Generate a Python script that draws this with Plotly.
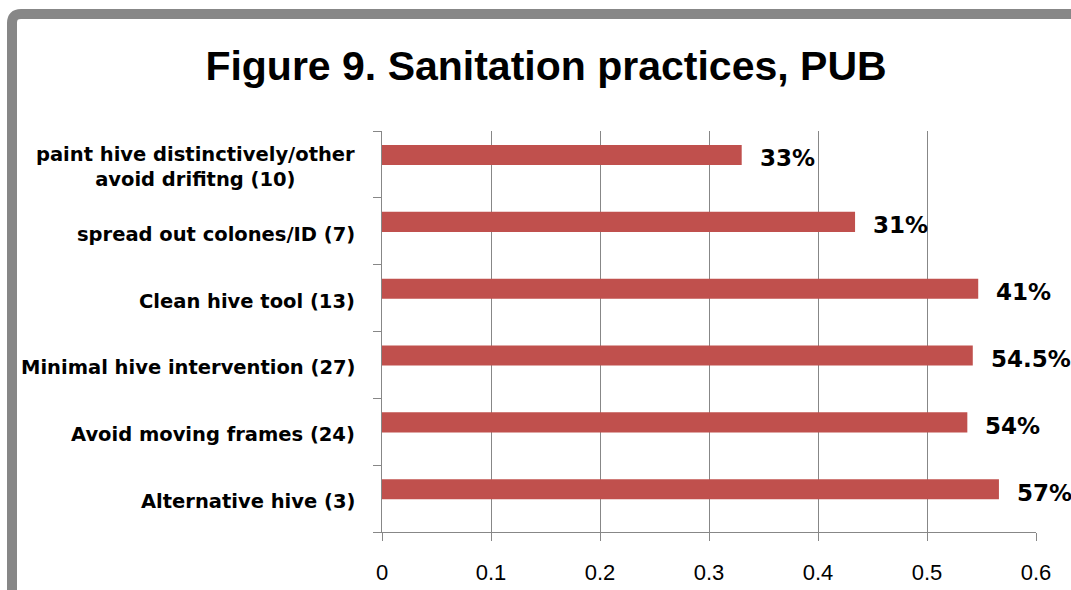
import plotly.graph_objects as go

# ---- data (top to bottom as shown) ----
categories = [
    "paint hive distinctively/other<br>avoid drifitng (10)",
    "spread out colones/ID (7)",
    "Clean hive tool (13)",
    "Minimal hive intervention (27)",
    "Avoid moving frames (24)",
    "Alternative hive (3)",
]
values = [0.33, 0.434, 0.547, 0.542, 0.537, 0.566]
value_labels = ["33%", "31%", "41%", "54.5%", "54%", "57%"]
x_ticks = [0, 0.1, 0.2, 0.3, 0.4, 0.5, 0.6]
x_tick_labels = ["0", "0.1", "0.2", "0.3", "0.4", "0.5", "0.6"]
title_text = "Figure 9. Sanitation practices, PUB"

# ---- layout geometry ----
W, H = 1071, 590
L, R, T, B = 382, 35, 131, 58
PW, PH = W - L - R, H - T - B
GREY = "#878787"
BAR = "#C0504D"


def px(x):
    return (x - L) / PW


def py(y):
    return (H - B - y) / PH


fig = go.Figure()
fig.add_trace(go.Bar(
    x=values, y=categories, orientation="h",
    width=0.3, offset=-0.01,
    marker=dict(color=BAR, line=dict(width=0)),
    hoverinfo="x+y",
))

annotations = []
for cat in categories:
    annotations.append(dict(
        x=px(357), xref="paper", y=cat, yref="y", xanchor="right",
        yanchor="middle", yshift=-3, align="center", showarrow=False,
        text=cat, font=dict(family="DejaVu Sans", size=19.5, weight="bold", color="black"),
    ))
for cat, v, lab in zip(categories, values, value_labels):
    annotations.append(dict(
        x=v, xref="x", y=cat, yref="y", xanchor="left", yanchor="middle",
        xshift=16, yshift=6, showarrow=False, text=lab,
        font=dict(family="DejaVu Sans", size=23, weight="bold", color="black"),
    ))

r = 9
border_path = (
    f"M {px(12)},{py(620)} L {px(12)},{py(14 + r)} "
    f"Q {px(12)},{py(14)} {px(12 + r)},{py(14)} L {px(1100)},{py(14)}"
)

fig.update_layout(
    width=W, height=H,
    margin=dict(l=L, r=R, t=T, b=B, pad=0),
    paper_bgcolor="white", plot_bgcolor="white",
    showlegend=False,
    title=dict(
        text=title_text, x=546 / W, xanchor="center", xref="container",
        y=1 - 66 / H, yref="container", yanchor="middle",
        font=dict(family="Liberation Sans", size=41, weight="bold", color="black"),
    ),
    xaxis=dict(
        range=[0, 0.6], tickvals=x_ticks, ticktext=x_tick_labels,
        showgrid=True, gridcolor=GREY, gridwidth=1, zeroline=False,
        showline=True, linecolor=GREY, linewidth=1,
        ticks="outside", ticklen=8, tickcolor=GREY, tickwidth=1,
        ticklabelstandoff=13, automargin=False,
        tickfont=dict(family="Liberation Sans", size=22, color="black"),
        fixedrange=True,
    ),
    yaxis=dict(
        type="category", categoryorder="array", categoryarray=categories[::-1],
        showgrid=False, zeroline=False, showticklabels=False,
        showline=True, linecolor=GREY, linewidth=1, automargin=False,
        ticks="outside", tickson="boundaries", ticklen=8, tickcolor=GREY, tickwidth=1,
        fixedrange=True,
    ),
    annotations=annotations,
    shapes=[dict(
        type="path", path=border_path, xref="paper", yref="paper",
        line=dict(color=GREY, width=10), fillcolor="rgba(0,0,0,0)", layer="above",
    )],
)

fig.write_html(
    "out.html",
    config={"displayModeBar": False},
    post_script="document.body.style.margin='0';document.body.style.overflow='hidden';",
)
